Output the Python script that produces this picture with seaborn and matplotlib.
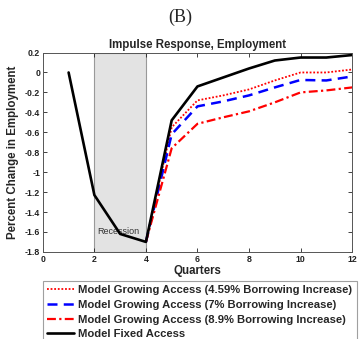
import matplotlib
matplotlib.use("Agg")
import matplotlib.pyplot as plt
import seaborn as sns
import pandas as pd

sns.set_theme(style="ticks")
plt.rcParams["font.family"] = ["Liberation Sans", "DejaVu Sans"]

quarters_fixed = [1, 2, 3, 4, 5, 6, 7, 8, 9, 10, 11, 12]
fixed_access = [0.0, -1.23, -1.62, -1.70, -0.48, -0.14, -0.05, 0.04, 0.12, 0.15, 0.15, 0.175]

quarters_growing = [4, 5, 6, 7, 8, 9, 10, 11, 12]
growing_459 = [-1.70, -0.55, -0.28, -0.23, -0.17, -0.08, 0.0, 0.0, 0.03]
growing_7 = [-1.70, -0.62, -0.34, -0.29, -0.23, -0.15, -0.075, -0.08, -0.04]
growing_89 = [-1.70, -0.76, -0.515, -0.45, -0.39, -0.30, -0.20, -0.18, -0.15]

series_labels = [
    "Model Growing Access (4.59% Borrowing Increase)",
    "Model Growing Access (7% Borrowing Increase)",
    "Model Growing Access (8.9% Borrowing Increase)",
    "Model Fixed Access",
]
x_ticks = [0, 2, 4, 6, 8, 10, 12]
y_ticks = [0.2, 0, -0.2, -0.4, -0.6, -0.8, -1, -1.2, -1.4, -1.6, -1.8]
y_tick_labels = ["0.2", "0", "-0.2", "-0.4", "-0.6", "-0.8", "-1", "-1.2", "-1.4", "-1.6", "-1.8"]
recession = (2, 4)

fig = plt.figure(figsize=(3.6, 3.39), dpi=100)
ax = fig.add_axes([0.119, 0.257, 0.859, 0.588])

ax.axvspan(recession[0], recession[1], facecolor="#e3e3e3", edgecolor="#999999", lw=0.8, zorder=0)
ax.text(2.12, -1.6, "Recession", fontsize=6.5, color="#333333", va="center", zorder=1)

sns.lineplot(x=quarters_growing, y=growing_459, ax=ax, color="red", lw=1.3,
             linestyle=(0, (1, 1)), label=series_labels[0], zorder=3)
sns.lineplot(x=quarters_growing, y=growing_7, ax=ax, color="blue", lw=1.8,
             linestyle=(0, (4, 2.5)), label=series_labels[1], zorder=3)
sns.lineplot(x=quarters_growing, y=growing_89, ax=ax, color="red", lw=1.6,
             linestyle=(0, (4, 1.5, 1, 1.5)), label=series_labels[2], zorder=3)
sns.lineplot(x=quarters_fixed, y=fixed_access, ax=ax, color="black", lw=1.9,
             label=series_labels[3], zorder=4)

ax.set_xlim(0, 12)
ax.set_ylim(-1.8, 0.2)
ax.set_xticks(x_ticks)
ax.set_xticklabels([str(t) for t in x_ticks], fontsize=6.3, fontweight="bold")
ax.set_yticks(y_ticks)
ax.set_yticklabels(y_tick_labels, fontsize=6.3, fontweight="bold")
ax.tick_params(direction="in", length=3, width=0.6, top=True, right=True, pad=2, colors="#222222")
for s in ax.spines.values():
    s.set_linewidth(0.7)
    s.set_color("#555555")

ax.set_xlabel("Quarters", fontsize=8.3, fontweight="bold", labelpad=1)
ax.set_ylabel("Percent Change in Employment", fontsize=8.3, fontweight="bold", labelpad=4)
ax.set_title("Impulse Response, Employment", fontsize=8.3, fontweight="bold", pad=3)

handles, labels = ax.get_legend_handles_labels()
ax.get_legend().remove()
leg = fig.legend(handles, labels, loc="upper left", bbox_to_anchor=(0.119, 0.172),
                 prop={"size": 8.1, "weight": "bold"}, frameon=True, fancybox=False,
                 handlelength=2.4, handletextpad=0.35, borderpad=0.4, labelspacing=0.42,
                 borderaxespad=0)
leg.get_frame().set_edgecolor("#888888")
leg.get_frame().set_linewidth(0.8)

fig.text(0.5, 0.95, "(B)", ha="center", va="center", fontsize=13,
         family=["Liberation Serif", "DejaVu Serif"])

fig.savefig("out.png", dpi=100)
